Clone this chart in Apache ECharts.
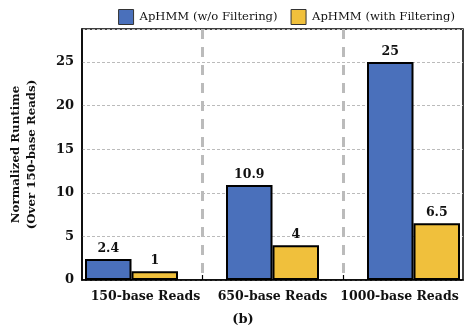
<!DOCTYPE html>
<html><head><meta charset="utf-8">
<script src="https://cdn.jsdelivr.net/npm/echarts@6/dist/echarts.min.js"></script>
<style>html,body{margin:0;padding:0;background:#fff}#c{width:466px;height:333px}</style>
</head><body><div id="c"></div>
<script>
const categories = ['150-base Reads', '650-base Reads', '1000-base Reads'];
const seriesNames = ['ApHMM (w/o Filtering)', 'ApHMM (with Filtering)'];
const noFilter = [2.4, 10.9, 25];
const withFilter = [1, 4, 6.5];
const yTicks = [0, 5, 10, 15, 20, 25];

const FONT = '"DejaVu Serif", "Liberation Serif", serif';
const chart = echarts.init(document.getElementById('c'));
const yMax = 28.8;
chart.setOption({
  animation: false,
  textStyle: { fontFamily: FONT },
  title: {
    text: '(b)', left: 238, top: 308, textAlign: 'center',
    textStyle: { fontFamily: FONT, fontWeight: 'bold', fontSize: 13, color: '#111' }
  },
  legend: {
    right: 6, top: 4, itemWidth: 15, itemHeight: 15, itemGap: 13, icon: 'rect',
    data: seriesNames,
    textStyle: { fontFamily: FONT, fontSize: 11.6, color: '#111', padding: [0, 0, 0, 1] },
    itemStyle: { borderColor: '#333', borderWidth: 1 }
  },
  grid: [
    { left: 82, top: 29, right: 3, bottom: 53, show: true, borderColor: '#000', borderWidth: 1.5, backgroundColor: 'transparent', outerBoundsMode: 'none', containLabel: false },
    { left: 61, top: 29, width: 423, bottom: 53, outerBoundsMode: 'none', containLabel: false }
  ],
  xAxis: [
    { type: 'category', gridIndex: 0, data: categories,
      axisLine: { lineStyle: { color: '#000', width: 1.5 } },
      axisTick: { show: false },
      axisLabel: { fontFamily: FONT, fontWeight: 'bold', fontSize: 12.5, color: '#111', margin: 10, interval: 0, hideOverlap: false },
      splitLine: { show: false } },
    { type: 'category', gridIndex: 1, data: categories,
      axisLine: { show: false },
      axisTick: { show: true, inside: true, length: 5, interval: (i) => i > 0, lineStyle: { color: '#000', width: 1.2 } },
      axisLabel: { show: false },
      splitLine: { show: true, interval: (i) => i > 0, lineStyle: { color: '#bbb', width: 3, type: [10, 8] } } }
  ],
  yAxis: [
    { type: 'value', gridIndex: 0, min: 0, max: yMax, interval: 5,
      name: 'Normalized Runtime\n(Over 150-base Reads)', nameLocation: 'middle', nameGap: 42, nameRotate: 90,
      nameTextStyle: { fontFamily: FONT, fontWeight: 'bold', fontSize: 11.8, color: '#111', lineHeight: 16 },
      axisLine: { show: true, lineStyle: { color: '#000', width: 1.5 } },
      axisTick: { show: false },
      axisLabel: { fontFamily: FONT, fontWeight: 'bold', fontSize: 13, color: '#111', margin: 8, showMaxLabel: false,
        formatter: (v) => yTicks.includes(v) ? String(v) : '' },
      splitLine: { show: true, lineStyle: { color: '#bbb', width: 1, type: [3, 2] } } },
    { type: 'value', gridIndex: 1, min: 0, max: yMax, interval: 5, show: false, splitLine: { show: false } }
  ],
  series: [
    { name: seriesNames[0], type: 'bar', xAxisIndex: 1, yAxisIndex: 1, data: noFilter,
      barWidth: 46.5, barGap: '0%',
      itemStyle: { color: '#4a70bb', borderColor: '#000', borderWidth: 2 },
      label: { show: true, position: 'top', distance: 4, fontFamily: FONT, fontWeight: 'bold', fontSize: 12.5, color: '#111' } },
    { name: seriesNames[1], type: 'bar', xAxisIndex: 1, yAxisIndex: 1, data: withFilter,
      barWidth: 46.5, barGap: '0%',
      itemStyle: { color: '#f0c03c', borderColor: '#000', borderWidth: 2 },
      label: { show: true, position: 'top', distance: 4, fontFamily: FONT, fontWeight: 'bold', fontSize: 12.5, color: '#111' } }
  ]
});
</script></body></html>
